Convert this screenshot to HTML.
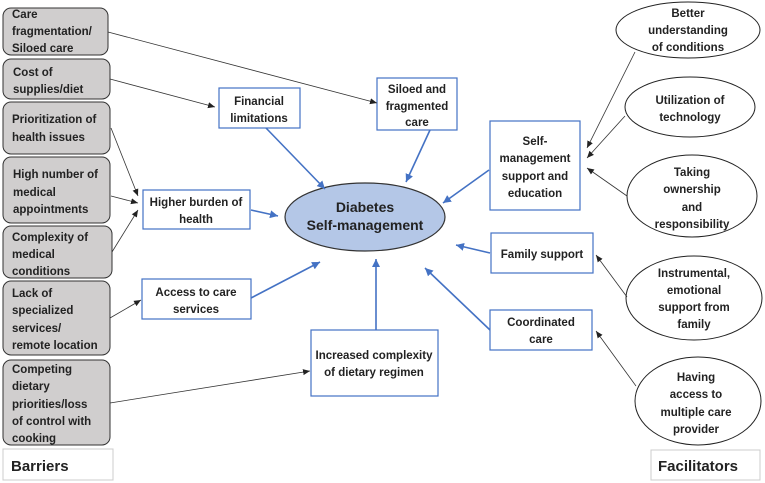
<!DOCTYPE html>
<html><head><meta charset="utf-8"><style>
html,body{margin:0;padding:0;background:#fff;}
svg{display:block;font-family:"Liberation Sans",sans-serif;font-weight:bold;}
</style></head><body>
<svg width="765" height="483" viewBox="0 0 765 483" xmlns="http://www.w3.org/2000/svg">
<defs>
<marker id="ak" markerWidth="8" markerHeight="8" refX="7" refY="4" orient="auto" markerUnits="userSpaceOnUse"><path d="M0,1 L7,4 L0,7 z" fill="#222"/></marker>
<marker id="ab" markerWidth="10" markerHeight="10" refX="8" refY="5" orient="auto" markerUnits="userSpaceOnUse"><path d="M0,1 L8,5 L0,9 z" fill="#4472c4"/></marker>
</defs>
<g fill="#d0cece" stroke="#333" stroke-width="1">
<rect x="3" y="8" width="105" height="47" rx="8"/>
<rect x="3" y="59" width="107" height="40" rx="8"/>
<rect x="3" y="102" width="107" height="52" rx="8"/>
<rect x="3" y="157" width="107" height="66" rx="8"/>
<rect x="3" y="226" width="109" height="52" rx="8"/>
<rect x="3" y="281" width="107" height="74" rx="8"/>
<rect x="3" y="360" width="107" height="85" rx="8"/>
</g>
<g font-size="11.5" fill="#222">
<text x="12" y="18">Care</text><text x="12" y="35">fragmentation/</text><text x="12" y="52">Siloed care</text>
<text x="13" y="76">Cost of</text><text x="13" y="93">supplies/diet</text>
<text x="12" y="123">Prioritization of</text><text x="12" y="141">health issues</text>
<text x="13" y="178">High number of</text><text x="13" y="196">medical</text><text x="13" y="213">appointments</text>
<text x="12" y="241">Complexity of</text><text x="12" y="258">medical</text><text x="12" y="275">conditions</text>
<text x="12" y="297">Lack of</text><text x="12" y="314">specialized</text><text x="12" y="332">services/</text><text x="12" y="349">remote location</text>
<text x="12" y="373">Competing</text><text x="12" y="390">dietary</text><text x="12" y="408">priorities/loss</text><text x="12" y="425">of control with</text><text x="12" y="442">cooking</text>
</g>
<rect x="3" y="449" width="110" height="31" fill="#fff" stroke="#ccc"/>
<text x="11" y="471" font-size="15" fill="#222">Barriers</text>
<rect x="651" y="450" width="109" height="30" fill="#fff" stroke="#ccc"/>
<text x="658" y="471" font-size="15" fill="#222">Facilitators</text>

<g fill="#fff" stroke="#4472c4" stroke-width="1.2">
<rect x="219" y="88" width="81" height="40"/>
<rect x="377" y="78" width="80" height="52"/>
<rect x="143" y="190" width="107" height="39"/>
<rect x="142" y="279" width="109" height="40"/>
<rect x="311" y="330" width="127" height="66"/>
<rect x="490" y="121" width="90" height="89"/>
<rect x="491" y="233" width="102" height="40"/>
<rect x="490" y="310" width="102" height="40"/>
</g>
<ellipse cx="365" cy="217" rx="80" ry="34" fill="#b4c7e7" stroke="#333" stroke-width="1.2"/>
<g font-size="11.5" fill="#222" text-anchor="middle">
<text x="259" y="105">Financial</text><text x="259" y="122">limitations</text>
<text x="417" y="93">Siloed and</text><text x="417" y="110">fragmented</text><text x="417" y="126">care</text>
<text x="196" y="206">Higher burden of</text><text x="196" y="223">health</text>
<text x="196" y="296">Access to care</text><text x="196" y="313">services</text>
<text x="374" y="359">Increased complexity</text><text x="374" y="376">of dietary regimen</text>
<text x="535" y="145">Self-</text><text x="535" y="162">management</text><text x="535" y="180">support and</text><text x="535" y="197">education</text>
<text x="542" y="258">Family support</text>
<text x="541" y="326">Coordinated</text><text x="541" y="343">care</text>
<text x="365" y="212" font-size="14">Diabetes</text><text x="365" y="230" font-size="14">Self-management</text>
</g>
<g fill="#fff" stroke="#222" stroke-width="1">
<ellipse cx="688" cy="30" rx="72" ry="28"/>
<ellipse cx="690" cy="107" rx="65" ry="30"/>
<ellipse cx="692" cy="196" rx="65" ry="41"/>
<ellipse cx="694" cy="298" rx="68" ry="42"/>
<ellipse cx="698" cy="401" rx="63" ry="44"/>
</g>
<g font-size="11.5" fill="#222" text-anchor="middle">
<text x="688" y="17">Better</text><text x="688" y="34">understanding</text><text x="688" y="51">of conditions</text>
<text x="690" y="104">Utilization of</text><text x="690" y="121">technology</text>
<text x="692" y="176">Taking</text><text x="692" y="193">ownership</text><text x="692" y="211">and</text><text x="692" y="228">responsibility</text>
<text x="694" y="277">Instrumental,</text><text x="694" y="294">emotional</text><text x="694" y="311">support from</text><text x="694" y="328">family</text>
<text x="696" y="381">Having</text><text x="696" y="398">access to</text><text x="696" y="416">multiple care</text><text x="696" y="433">provider</text>
</g>
<g stroke="#333" stroke-width="0.8" marker-end="url(#ak)">
<line x1="108" y1="32" x2="377" y2="103"/>
<line x1="110" y1="79" x2="215" y2="107"/>
<line x1="111" y1="128" x2="138" y2="196"/>
<line x1="111" y1="196" x2="138" y2="203"/>
<line x1="112" y1="252" x2="138" y2="210"/>
<line x1="110" y1="318" x2="141" y2="300"/>
<line x1="110" y1="403" x2="310" y2="371"/>
<line x1="635" y1="52" x2="587" y2="148"/>
<line x1="625" y1="116" x2="587" y2="158"/>
<line x1="627" y1="196" x2="587" y2="168"/>
<line x1="627" y1="297" x2="596" y2="255"/>
<line x1="636" y1="386" x2="596" y2="331"/>
</g>
<g stroke="#4472c4" stroke-width="1.6" marker-end="url(#ab)">
<line x1="266" y1="128" x2="325" y2="189"/>
<line x1="430" y1="130" x2="406" y2="182"/>
<line x1="251" y1="210" x2="278" y2="216"/>
<line x1="251" y1="298" x2="320" y2="262"/>
<line x1="376" y1="330" x2="376" y2="259"/>
<line x1="489" y1="170" x2="443" y2="203"/>
<line x1="490" y1="253" x2="456" y2="245"/>
<line x1="490" y1="330" x2="425" y2="268"/>
</g>
</svg>
</body></html>
